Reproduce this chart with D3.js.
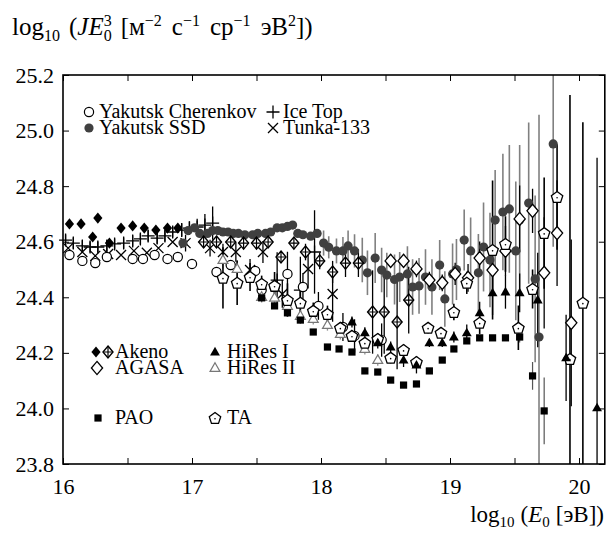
<!DOCTYPE html>
<html>
<head>
<meta charset="utf-8">
<script src="https://cdn.jsdelivr.net/npm/d3@7"></script>
<style>
body { margin: 0; background: #fff; }
svg text { font-family: "Liberation Serif", "Times New Roman", "Tinos", "DejaVu Serif", "Noto Serif", serif; fill: #000; }
</style>
</head>
<body>
<svg id="chart" width="610" height="533" font-family="'Liberation Serif', 'Times New Roman', 'DejaVu Serif', serif"></svg>
<script>
// ---- data (log10 E, log10 JE^3, error) ----
const ykcE = [16.05, 16.15, 16.25, 16.34, 16.54, 16.62, 16.71, 16.81, 16.89, 17.0, 17.19, 17.3, 17.49, 17.54, 17.64, 17.74, 17.86, 17.98, 18.17, 18.26, 18.47]
const ykcV = [24.552, 24.531, 24.523, 24.545, 24.538, 24.538, 24.552, 24.538, 24.545, 24.52, 24.491, 24.516, 24.495, 24.426, 24.437, 24.484, 24.437, 24.369, 24.293, 24.261, 24.246]
const ykcErr = [0, 0, 0, 0, 0, 0, 0, 0, 0, 0, 0, 0, 0, 0.04, 0.03, 0.08, 0.05, 0.05, 0.05, 0.06, 0.06]

const ssdE = [16.93, 16.97, 17.02, 17.06, 17.12, 17.16, 17.2, 17.24, 17.28, 17.32, 17.36, 17.41, 17.47, 17.51, 17.57, 17.61, 17.66, 17.7, 17.74, 17.78, 17.82, 17.86, 17.92, 17.97, 18.02, 18.06, 18.12, 18.17, 18.21, 18.26, 18.32, 18.36, 18.42, 18.47, 18.51, 18.57, 18.61, 18.67, 18.71, 18.76, 18.81, 18.86, 18.92, 18.96, 19.02, 19.05, 19.11, 19.16, 19.22, 19.26, 19.31, 19.35, 19.41, 19.46, 19.51, 19.54, 19.61, 19.66, 19.69, 19.8]
const ssdV = [24.595, 24.64, 24.65, 24.63, 24.63, 24.64, 24.64, 24.635, 24.635, 24.63, 24.63, 24.625, 24.625, 24.63, 24.63, 24.635, 24.65, 24.65, 24.655, 24.66, 24.63, 24.625, 24.62, 24.63, 24.595, 24.58, 24.567, 24.567, 24.585, 24.567, 24.534, 24.488, 24.541, 24.498, 24.48, 24.464, 24.473, 24.484, 24.437, 24.441, 24.473, 24.437, 24.516, 24.394, 24.484, 24.5, 24.606, 24.567, 24.488, 24.581, 24.534, 24.678, 24.707, 24.718, 24.567, 24.678, 24.739, 24.466, 24.257, 24.952]
const ssdErr = [0, 0, 0, 0, 0, 0, 0, 0, 0, 0, 0, 0, 0, 0, 0, 0, 0, 0, 0, 0, 0, 0, 0, 0, 0.045, 0.04, 0.045, 0.05, 0.055, 0.06, 0.08, 0.08, 0.09, 0.08, 0.08, 0.09, 0.09, 0.1, 0.1, 0.1, 0.1, 0.1, 0.09, 0.1, 0.11, 0.11, 0.11, 0.12, 0.14, 0.16, 0.17, 0.18, 0.21, 0.23, 0.25, 0.27, 0.29, 0.3, 0.8, 0.37]

const itE = [16.02, 16.08, 16.15, 16.21, 16.27, 16.34, 16.4, 16.47, 16.54, 16.6, 16.66, 16.73, 16.79, 16.85, 16.92, 16.98, 17.04, 17.1, 17.16, 17.66, 17.84, 17.95]
const itV = [24.606, 24.595, 24.585, 24.581, 24.581, 24.585, 24.592, 24.595, 24.603, 24.61, 24.621, 24.613, 24.621, 24.635, 24.642, 24.649, 24.653, 24.66, 24.667, 24.462, 24.426, 24.563]
const itErr = [0.02, 0.02, 0.02, 0.02, 0.02, 0.02, 0.02, 0.02, 0.02, 0.02, 0.02, 0.02, 0.02, 0.02, 0.025, 0.025, 0.03, 0.04, 0.06, 0.1, 0.12, 0.15]

const tkE = [16.04, 16.15, 16.25, 16.35, 16.45, 16.55, 16.65, 16.74, 16.85, 16.95, 17.14, 17.24, 17.34, 17.45, 17.55, 17.7, 17.9, 18.09]
const tkV = [24.577, 24.563, 24.549, 24.556, 24.552, 24.567, 24.56, 24.577, 24.599, 24.595, 24.577, 24.563, 24.563, 24.498, 24.563, 24.412, 24.502, 24.412]
const tkErr = [0, 0, 0, 0, 0, 0, 0, 0, 0, 0.03, 0.03, 0.03, 0.035, 0.04, 0.04, 0.05, 0.07, 0.1]

const akE = [16.05, 16.14, 16.23, 16.27, 16.36, 16.45, 16.54, 16.63, 16.72, 16.81, 16.89]
const akV = [24.664, 24.664, 24.617, 24.685, 24.595, 24.649, 24.657, 24.649, 24.642, 24.649, 24.649]

const ak1E = [17.09, 17.19, 17.3, 17.4, 17.5, 17.59, 17.69, 17.79, 17.88, 17.99, 18.09, 18.19, 18.29, 18.4, 18.49, 18.59, 18.68]
const ak1V = [24.599, 24.599, 24.599, 24.595, 24.595, 24.599, 24.545, 24.595, 24.563, 24.531, 24.491, 24.523, 24.523, 24.347, 24.347, 24.311, 24.39]
const ak1Err = [0, 0, 0, 0, 0, 0, 0.02, 0.02, 0.03, 0.03, 0.04, 0.05, 0.05, 0.15, 0.15, 0.17, 0.12]

const agE = [18.54, 18.64, 18.74, 18.84, 18.94, 19.04, 19.14, 19.23, 19.33, 19.43, 19.54, 19.64, 19.73, 19.83, 19.94]
const agV = [24.531, 24.531, 24.502, 24.462, 24.452, 24.484, 24.47, 24.541, 24.498, 24.567, 24.682, 24.711, 24.488, 24.631, 24.308]
const agErr = [0.02, 0.02, 0.03, 0.03, 0.03, 0.04, 0.05, 0.06, 0.07, 0.09, 0.12, 0.08, 0.2, 0.19, 0.3]

const h1E = [18.24, 18.34, 18.44, 18.54, 18.64, 18.74, 18.84, 18.94, 19.03, 19.13, 19.23, 19.33, 19.43, 19.54, 19.68, 19.9, 20.14]
const h1V = [24.311, 24.272, 24.236, 24.221, 24.174, 24.156, 24.236, 24.236, 24.257, 24.272, 24.344, 24.416, 24.419, 24.416, 24.39, 24.182, 24.002]
const h1Err = [0.02, 0.02, 0.02, 0.02, 0.025, 0.03, 0.015, 0.015, 0.02, 0.03, 0.04, 0.08, 0.06, 0.07, 0.17, 0.155, 0.9]

const h2E = [17.24, 17.35, 17.54, 17.64, 17.74, 17.84, 17.94, 18.05, 18.15, 18.34, 18.44]
const h2V = [24.534, 24.502, 24.401, 24.398, 24.369, 24.333, 24.322, 24.3, 24.268, 24.214, 24.174]
const h2Err = [0.03, 0.03, 0.02, 0.02, 0.02, 0.02, 0.02, 0.02, 0.02, 0.02, 0.02]

const paoE = [17.54, 17.64, 17.74, 17.84, 17.94, 18.05, 18.14, 18.24, 18.34, 18.44, 18.54, 18.64, 18.74, 18.84, 18.94, 19.03, 19.13, 19.23, 19.33, 19.43, 19.54, 19.64, 19.73]
const paoV = [24.398, 24.369, 24.344, 24.318, 24.275, 24.221, 24.214, 24.203, 24.135, 24.131, 24.102, 24.084, 24.088, 24.135, 24.174, 24.214, 24.243, 24.254, 24.254, 24.254, 24.257, 24.117, 23.991]
const paoErr = [0, 0, 0, 0, 0, 0, 0, 0, 0, 0, 0, 0, 0, 0, 0, 0, 0, 0, 0, 0, 0.02, 0.05, 0.12]

const taE = [17.24, 17.35, 17.45, 17.54, 17.64, 17.74, 17.84, 17.94, 18.05, 18.15, 18.24, 18.34, 18.44, 18.54, 18.64, 18.74, 18.83, 18.93, 19.03, 19.13, 19.23, 19.33, 19.43, 19.53, 19.64, 19.73, 19.83, 19.93, 20.03]
const taV = [24.47, 24.452, 24.473, 24.448, 24.441, 24.39, 24.38, 24.351, 24.34, 24.29, 24.261, 24.236, 24.25, 24.182, 24.21, 24.167, 24.29, 24.272, 24.347, 24.452, 24.308, 24.57, 24.592, 24.29, 24.43, 24.631, 24.761, 24.178, 24.38]
const taErr = [0.11, 0.08, 0.05, 0.03, 0.05, 0.06, 0.06, 0.03, 0.03, 0.02, 0.02, 0.02, 0.02, 0.02, 0.02, 0.02, 0.02, 0.02, 0.03, 0.04, 0.04, 0.25, 0.1, 0.08, 0.07, 0.2, 0.19, 0.95, 0.65]

const xTicks = [16, 16.5, 17, 17.5, 18, 18.5, 19, 19.5, 20]
const yTicks = [23.8, 24.0, 24.2, 24.4, 24.6, 24.8, 25.0, 25.2]

// ---- layout ----
const serif = "'Liberation Serif', 'Times New Roman', 'DejaVu Serif', serif"
const svg = d3.select("#chart")
const plotL = 63, plotR = 604.8, plotT = 75, plotB = 464

const x = d3.scaleLinear().domain([16, 20.2]).range([plotL, plotR])
const y = d3.scaleLinear().domain([23.8, 25.2]).range([plotB, plotT])

svg.append("defs").append("clipPath").attr("id", "plotclip")
    .append("rect")
    .attr("x", plotL).attr("y", plotT)
    .attr("width", plotR - plotL).attr("height", plotB - plotT)

function zip(es, vs, errs) {
    return es.map(function(e, i) { return {e: e, v: vs[i], err: errs ? errs[i] : 0} })
}

// ---- axes ----
function styleAxis(g) {
    g.attr("font-family", serif)
    g.select(".domain").remove()
    g.selectAll(".tick line").attr("stroke", "#000").attr("stroke-width", 1)
    g.selectAll(".tick text").style("font-size", "22px").style("font-family", serif)
}

svg.append("g")
    .attr("transform", `translate(0, ${plotB})`)
    .call(d3.axisBottom(x).tickValues(xTicks).tickSize(-6).tickPadding(14)
        .tickFormat(function(d) { return Number.isInteger(d) ? d : "" }))
    .call(styleAxis)

svg.append("g")
    .attr("transform", `translate(0, ${plotT})`)
    .call(d3.axisTop(x).tickValues(xTicks).tickSize(-6).tickFormat(""))
    .call(styleAxis)

svg.append("g")
    .attr("transform", `translate(${plotL}, 0)`)
    .call(d3.axisLeft(y).tickValues(yTicks).tickSize(-6).tickPadding(9)
        .tickFormat(d3.format(".1f")))
    .call(styleAxis)

svg.append("g")
    .attr("transform", `translate(${plotR}, 0)`)
    .call(d3.axisRight(y).tickValues(yTicks).tickSize(-6).tickFormat(""))
    .call(styleAxis)

// ---- marker shapes ----
function pentPath(cx, cy, r) {
    let pts = d3.range(5).map(function(k) {
        let a = -Math.PI / 2 + k * 2 * Math.PI / 5
        return [cx + r * Math.cos(a), cy + r * Math.sin(a)]
    })
    return "M" + pts.map(function(p) { return p.join(",") }).join("L") + "Z"
}

function diamondPath(cx, cy, hw, hh) {
    return `M${cx},${cy - hh}L${cx + hw},${cy}L${cx},${cy + hh}L${cx - hw},${cy}Z`
}

function triPath(cx, cy, s) {
    return `M${cx},${cy - s}L${cx + s * 0.95},${cy + s * 0.65}L${cx - s * 0.95},${cy + s * 0.65}Z`
}

function drawMarker(g, type, cx, cy) {
    if (type === "circleOpen") {
        g.append("circle").attr("cx", cx).attr("cy", cy).attr("r", 4.6)
            .attr("fill", "#fff").attr("stroke", "#000").attr("stroke-width", 1.2)
    } else if (type === "circleFill") {
        g.append("circle").attr("cx", cx).attr("cy", cy).attr("r", 4.6)
            .attr("fill", "#404040")
    } else if (type === "plus") {
        g.append("path").attr("d", `M${cx - 6.5},${cy}H${cx + 6.5}M${cx},${cy - 6.5}V${cy + 6.5}`)
            .attr("stroke", "#000").attr("stroke-width", 1.3).attr("fill", "none")
    } else if (type === "cross") {
        g.append("path").attr("d", `M${cx - 5},${cy - 5}L${cx + 5},${cy + 5}M${cx - 5},${cy + 5}L${cx + 5},${cy - 5}`)
            .attr("stroke", "#000").attr("stroke-width", 1.3).attr("fill", "none")
    } else if (type === "diamondFill") {
        g.append("path").attr("d", diamondPath(cx, cy, 4.6, 5.6)).attr("fill", "#000")
    } else if (type === "diamondPlus") {
        g.append("path").attr("d", diamondPath(cx, cy, 5, 6))
            .attr("fill", "#fff").attr("stroke", "#000").attr("stroke-width", 1.4)
        g.append("path").attr("d", `M${cx - 5},${cy}H${cx + 5}M${cx},${cy - 6}V${cy + 6}`)
            .attr("stroke", "#000").attr("stroke-width", 1.2)
    } else if (type === "diamondOpen") {
        g.append("path").attr("d", diamondPath(cx, cy, 5.6, 6.6))
            .attr("fill", "#fff").attr("stroke", "#000").attr("stroke-width", 1.3)
    } else if (type === "triFill") {
        g.append("path").attr("d", triPath(cx, cy, 5.2)).attr("fill", "#000")
    } else if (type === "triOpen") {
        g.append("path").attr("d", triPath(cx, cy, 5.2))
            .attr("fill", "#fff").attr("stroke", "#777").attr("stroke-width", 1.2)
    } else if (type === "square") {
        g.append("rect").attr("x", cx - 3.6).attr("y", cy - 3.6)
            .attr("width", 7.2).attr("height", 7.2).attr("fill", "#000")
    } else if (type === "pentagon") {
        g.append("path").attr("d", pentPath(cx, cy + 0.5, 6))
            .attr("fill", "#fff").attr("stroke", "#000").attr("stroke-width", 1.3)
        g.append("circle").attr("cx", cx).attr("cy", cy + 0.8).attr("r", 0.8).attr("fill", "#000")
    }
}

// ---- error bars ----
let bars = svg.append("g").attr("clip-path", "url(#plotclip)")

function drawBars(data, color, width) {
    bars.append("g").selectAll("line")
        .data(data.filter(function(d) { return d.err > 0 }))
        .enter()
        .append("line")
        .attr("x1", function(d) { return x(d.e) })
        .attr("x2", function(d) { return x(d.e) })
        .attr("y1", function(d) { return y(d.v + d.err) })
        .attr("y2", function(d) { return y(d.v - d.err) })
        .attr("stroke", color)
        .attr("stroke-width", width)
}

const ssd = zip(ssdE, ssdV, ssdErr)
const ykc = zip(ykcE, ykcV, ykcErr)
const ice = zip(itE, itV, itErr)
const tunka = zip(tkE, tkV, tkErr)
const akeno = zip(akE, akV)
const akeno1 = zip(ak1E, ak1V, ak1Err)
const agasa = zip(agE, agV, agErr)
const hires1 = zip(h1E, h1V, h1Err)
const hires2 = zip(h2E, h2V, h2Err)
const pao = zip(paoE, paoV, paoErr)
const ta = zip(taE, taV, taErr)

drawBars(ssd, "#808080", 1.6)
drawBars(hires2, "#909090", 1.3)
drawBars(ykc, "#000", 1.3)
drawBars(ice, "#000", 1.3)
drawBars(tunka, "#000", 1.3)
drawBars(akeno1, "#000", 1.3)
drawBars(agasa, "#000", 1.3)
drawBars(hires1, "#000", 1.3)
drawBars(pao, "#555", 1.2)
drawBars(ta, "#000", 1.6)

// ---- markers ----
let marks = svg.append("g")

function drawSeries(data, type) {
    let g = marks.append("g")
    data.forEach(function(d) { drawMarker(g, type, x(d.e), y(d.v)) })
}

drawSeries(ice, "plus")
drawSeries(tunka, "cross")
drawSeries(akeno, "diamondFill")
drawSeries(ssd, "circleFill")
drawSeries(ykc, "circleOpen")
drawSeries(akeno1, "diamondPlus")
drawSeries(hires2, "triOpen")
drawSeries(pao, "square")
drawSeries(agasa, "diamondOpen")
drawSeries(ta, "pentagon")
drawSeries(hires1, "triFill")

// ---- frame ----
svg.append("rect")
    .attr("x", plotL).attr("y", plotT)
    .attr("width", plotR - plotL).attr("height", plotB - plotT)
    .attr("fill", "none").attr("stroke", "#000").attr("stroke-width", 1.6)

// ---- legends ----
const legendItems = [
    {types: ["circleOpen"], mx: [89], label: "Yakutsk Cherenkov", tx: 99, y: 112},
    {types: ["circleFill"], mx: [89], label: "Yakutsk SSD", tx: 99, y: 128},
    {types: ["plus"], mx: [273], label: "Ice Top", tx: 283, y: 112},
    {types: ["cross"], mx: [273], label: "Tunka-133", tx: 283, y: 128},
    {types: ["diamondFill", "diamondPlus"], mx: [96, 108], label: "Akeno", tx: 115, y: 352},
    {types: ["diamondOpen"], mx: [97], label: "AGASA", tx: 115, y: 368},
    {types: ["triFill"], mx: [215], label: "HiRes I", tx: 227, y: 352},
    {types: ["triOpen"], mx: [215], label: "HiRes II", tx: 227, y: 368},
    {types: ["square"], mx: [98], label: "PAO", tx: 115, y: 418},
    {types: ["pentagon"], mx: [215], label: "TA", tx: 227, y: 418}
]

let legend = svg.append("g")
legendItems.forEach(function(item) {
    item.types.forEach(function(t, i) { drawMarker(legend, t, item.mx[i], item.y) })
    legend.append("text")
        .attr("x", item.tx).attr("y", item.y + 6)
        .style("font-family", serif)
        .style("font-size", "20px")
        .text(item.label)
})

// ---- axis titles ----
let ytitle = svg.append("text").attr("x", 12).attr("y", 35)
    .style("font-family", serif).style("font-size", "25px")
ytitle.append("tspan").text("log")
ytitle.append("tspan").attr("dy", 6).style("font-size", "16px").text("10")
ytitle.append("tspan").attr("dy", -6).attr("dx", 9).text("(")
ytitle.append("tspan").style("font-style", "italic").text("JE")
ytitle.append("tspan").attr("dy", 6).style("font-size", "16px").text("0")
ytitle.append("tspan").attr("dy", -15).attr("dx", -8).style("font-size", "16px").text("3")
ytitle.append("tspan").attr("dy", 9).attr("dx", 9).text("[м")
ytitle.append("tspan").attr("dy", -9).style("font-size", "16px").text("−2")
ytitle.append("tspan").attr("dy", 9).attr("dx", 10).text("с")
ytitle.append("tspan").attr("dy", -9).style("font-size", "16px").text("−1")
ytitle.append("tspan").attr("dy", 9).attr("dx", 10).text("ср")
ytitle.append("tspan").attr("dy", -9).style("font-size", "16px").text("−1")
ytitle.append("tspan").attr("dy", 9).attr("dx", 10).text("эВ")
ytitle.append("tspan").attr("dy", -9).style("font-size", "16px").text("2")
ytitle.append("tspan").attr("dy", 9).text("])")

let xtitle = svg.append("text").attr("x", 604).attr("y", 522)
    .style("font-family", serif).style("font-size", "23px").style("text-anchor", "end")
xtitle.append("tspan").text("log")
xtitle.append("tspan").attr("dy", 5).style("font-size", "15px").text("10")
xtitle.append("tspan").attr("dy", -5).attr("dx", 6).text("(")
xtitle.append("tspan").style("font-style", "italic").text("E")
xtitle.append("tspan").attr("dy", 5).style("font-size", "15px").text("0")
xtitle.append("tspan").attr("dy", -5).attr("dx", 6).text("[эВ])")
</script>
</body>
</html>
